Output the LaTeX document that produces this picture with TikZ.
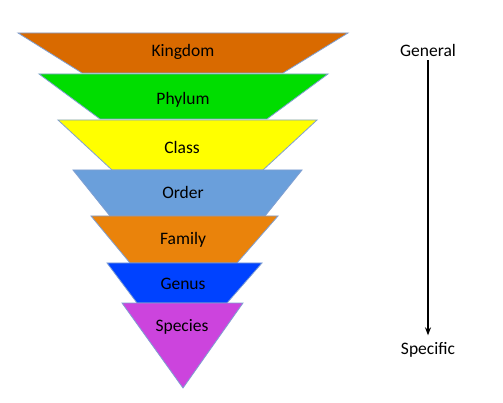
\documentclass[tikz,border=0pt]{standalone}
\usepackage{fontspec}
\setmainfont{Carlito}
\usetikzlibrary{arrows.meta}
\definecolor{ckingdom}{HTML}{D96A00}
\definecolor{cphylum}{HTML}{00DD00}
\definecolor{cclass}{HTML}{FFFF00}
\definecolor{corder}{HTML}{6A9FDB}
\definecolor{cfamily}{HTML}{EA830B}
\definecolor{cgenus}{HTML}{0042FF}
\definecolor{cspecies}{HTML}{CC44DD}
\definecolor{cedge}{HTML}{7F9FD2}
\tikzset{
  layer/.style={draw=cedge, line width=0.8pt, line join=miter},
  lbl/.style={font=\fontsize{17.5}{20}\selectfont, text=black, inner sep=0pt},
  side/.style={font=\fontsize{17.5}{20}\selectfont, text=black, inner sep=1pt},
}
\begin{document}
\begin{tikzpicture}[x=1pt,y=-1pt]
\useasboundingbox (0,0) rectangle (503,403);
\fill[white] (0,0) rectangle (503,403);
% layers
\draw[layer, fill=ckingdom] (18,33) -- (348,33) -- (283,73) -- (82,73) -- cycle;
\draw[layer, fill=cphylum] (39,74) -- (328,74) -- (267,119) -- (100,119) -- cycle;
\draw[layer, fill=cclass] (58,120) -- (317,120) -- (263,170) -- (112,170) -- cycle;
\draw[layer, fill=corder] (73,170) -- (302,170) -- (265,216) -- (110,216) -- cycle;
\draw[layer, fill=cfamily] (91,216) -- (278,216) -- (237,263) -- (130,263) -- cycle;
\draw[layer, fill=cgenus] (107,263) -- (262,263) -- (227,303) -- (137,303) -- cycle;
\draw[layer, fill=cspecies] (122,303) -- (243,303) -- (183,388) -- cycle;
% labels
\node[lbl] (kingdom) at (183,52) {Kingdom};
\node[lbl] (phylum) at (183,100) {Phylum};
\node[lbl] (class) at (182,147) {Class};
\node[lbl] (order) at (183,192) {Order};
\node[lbl] (family) at (183,240) {Family};
\node[lbl] (genus) at (183,284) {Genus};
\node[lbl] (species) at (182,327) {Species};
% side arrow
\node[side] (general) at (428,50) {General};
\node[side] (specific) at (428,350) {Specific};
\draw[line width=1.6pt, shorten <=3pt, shorten >=6pt, -{Stealth[length=8pt,width=6pt]}]
  (general.south) -- (specific.north);
\end{tikzpicture}
\end{document}
